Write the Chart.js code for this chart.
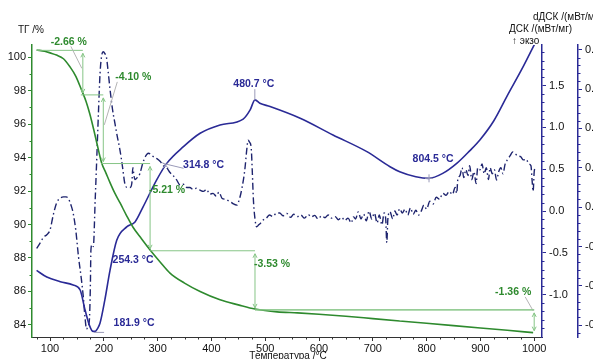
<!DOCTYPE html>
<html>
<head>
<meta charset="utf-8">
<script src="https://cdn.jsdelivr.net/npm/chart.js@4/dist/chart.umd.min.js"></script>
<style>
  html, body { margin: 0; padding: 0; background: #fff; overflow: hidden; }
  #wrap { width: 593px; height: 359px; position: relative; }
</style>
</head>
<body>
<div id="wrap"><canvas id="c" width="593" height="359"></canvas></div>
<script>
// ---- TG (mass, %) ----
const tgTemp = [75, 90, 100, 112, 125, 137, 148, 159, 167, 174, 181, 187, 196, 204, 211.5, 220, 230, 242, 254, 270, 286, 305, 323, 350, 379, 416, 450, 481, 522, 560, 600, 650, 700, 750, 800, 850, 900, 950, 998];
const tgMass = [100.42, 100.35, 100.25, 100.12, 99.9, 99.42, 98.85, 98.0, 97.35, 96.6, 95.7, 94.87, 93.67, 93.07, 92.5, 91.9, 91.3, 90.55, 89.85, 89.15, 88.48, 87.75, 87.1, 86.5, 86.0, 85.5, 85.2, 84.95, 84.78, 84.72, 84.64, 84.52, 84.38, 84.24, 84.1, 83.96, 83.82, 83.68, 83.54];

// ---- DSC (mW/mg) ----
const dscTemp = [75, 94, 119, 143, 156, 165, 174, 180, 184, 188, 193, 202, 211.5, 224, 242.5, 258, 273, 298, 317, 348, 379, 416, 459, 472, 481, 490, 509, 565, 626, 689, 732, 750, 780, 804, 830, 856, 880, 899, 925, 950, 979, 1001];
const dscVal  = [-0.71, -0.79, -0.845, -0.885, -0.945, -1.18, -1.38, -1.44, -1.44, -1.41, -1.34, -1.06, -0.71, -0.35, -0.19, -0.13, 0.05, 0.37, 0.57, 0.77, 0.93, 1.03, 1.10, 1.21, 1.33, 1.29, 1.25, 1.11, 0.91, 0.71, 0.53, 0.47, 0.41, 0.39, 0.45, 0.57, 0.72, 0.85, 1.08, 1.38, 1.72, 2.0];

// ---- dDSC (mW/mg/min) ----
const ddscTemp = [75, 82, 88, 94, 100, 106, 112, 118, 125, 130, 134, 139, 143, 148, 153, 158, 162, 165, 168, 171, 173, 175, 176, 178, 180.5, 184, 187, 190, 193, 196, 199, 202, 205, 208, 211.5, 216, 221, 225, 230, 235, 239, 244, 249, 252, 254, 256, 258, 262, 267, 272, 277, 283, 290, 298, 305, 311, 317, 323, 329, 335, 342, 348, 354, 360, 366, 372, 379, 385, 391, 397, 403, 409, 414, 420, 426, 432, 437, 441, 447, 452, 457, 462, 466, 468, 471, 474, 476, 478, 481, 484, 488, 492, 496, 502, 508, 514, 520, 527, 533, 540, 547, 553, 560, 566, 573, 580, 586, 592, 598, 605, 611, 617, 624, 630, 636, 642, 648, 654, 660, 664, 668, 673, 678, 683, 688, 693, 698, 703, 708, 712, 717, 721, 724, 726, 728, 732, 737, 741, 745, 750, 755, 760, 765, 770, 775, 780, 785, 790, 795, 800, 806, 812, 818, 824, 830, 836, 842, 848, 853, 856, 858, 862, 866, 869, 873, 877, 880, 884, 888, 892, 895, 899, 903, 907, 911, 915, 918, 922, 926, 930, 934, 938, 942, 946, 950, 955, 960, 965, 970, 975, 980, 985, 990, 994, 996, 998, 1000, 1002];
const ddscVal  = [-0.105, -0.09, -0.076, -0.07, -0.058, -0.02, 0.01, 0.022, 0.026, 0.026, 0.022, 0.005, -0.015, -0.06, -0.127, -0.18, -0.23, -0.28, -0.31, -0.30, -0.29, -0.2, -0.11, -0.095, -0.10, 0.02, 0.128, 0.24, 0.34, 0.385, 0.395, 0.39, 0.38, 0.345, 0.30, 0.25, 0.21, 0.18, 0.145, 0.10, 0.06, 0.05, 0.05, 0.06, 0.10, 0.08, 0.07, 0.075, 0.085, 0.11, 0.128, 0.137, 0.13, 0.124, 0.116, 0.105, 0.10, 0.088, 0.08, 0.07, 0.056, 0.058, 0.05, 0.05, 0.045, 0.048, 0.043, 0.04, 0.045, 0.033, 0.035, 0.028, 0.038, 0.022, 0.02, 0.016, 0.012, 0.008, 0.005, 0.02, 0.05, 0.094, 0.15, 0.17, 0.165, 0.15, 0.09, 0.02, -0.03, -0.05, -0.045, -0.04, -0.033, -0.028, -0.02, -0.024, -0.016, -0.015, -0.022, -0.016, -0.026, -0.018, -0.024, -0.02, -0.028, -0.019, -0.025, -0.021, -0.03, -0.022, -0.027, -0.02, -0.028, -0.024, -0.032, -0.026, -0.034, -0.028, -0.04, -0.025, -0.03, -0.012, -0.03, -0.018, -0.035, -0.01, -0.03, -0.015, -0.04, -0.02, -0.045, -0.015, -0.03, -0.09, -0.03, -0.012, -0.03, -0.01, -0.02, -0.004, -0.015, -0.005, -0.02, -0.002, -0.018, -0.008, -0.02, -0.01, 0.005, -0.005, 0.015, 0.008, 0.025, 0.02, 0.035, 0.03, 0.04, 0.032, 0.05, 0.035, 0.07, 0.08, 0.1, 0.075, 0.095, 0.08, 0.105, 0.07, 0.09, 0.06, 0.1, 0.095, 0.11, 0.085, 0.1, 0.07, 0.1, 0.085, 0.095, 0.069, 0.09, 0.1, 0.085, 0.11, 0.12, 0.13, 0.14, 0.135, 0.13, 0.128, 0.12, 0.122, 0.11, 0.105, 0.07, 0.04, 0.09, 0.1];

// ---- mass-loss steps and evaluated peaks ----
const stepStartMass = 100.40;
const stepLoss = [-2.66, -4.10, -5.21, -3.53, -1.36];
const stepTemp = [161, 199, 286, 481, 1000];
const peakTemp = [181.9, 254.3, 314.8, 480.7, 804.5];

// ---- tick values ----
const tgTicks = [84, 86, 88, 90, 92, 94, 96, 98, 100];
const dscTicks = [-1.0, -0.5, 0.0, 0.5, 1.0, 1.5];
const ddscTicks = [-0.3, -0.2, -0.1, 0.0, 0.1, 0.2, 0.3, 0.4];
const tempTicks = [100, 200, 300, 400, 500, 600, 700, 800, 900, 1000];

const GREEN = '#2e8a2e';
const LIGHTGREEN = '#86c586';
const NAVY = '#2a2a96';
const DASHNAVY = '#1e246e';
const FONT = '"Liberation Sans", Arial, sans-serif';

const pts = (xs, ys) => xs.map((x, i) => ({ x, y: ys[i] }));
const interp = (xs, ys, t) => {
  for (let i = 1; i < xs.length; i++) {
    if (t <= xs[i]) {
      const f = (t - xs[i - 1]) / (xs[i] - xs[i - 1]);
      return ys[i - 1] + f * (ys[i] - ys[i - 1]);
    }
  }
  return ys[ys.length - 1];
};

function fixedTicks(list) {
  return function (scale) {
    scale.ticks = list.map(v => ({ value: v }));
  };
}

// decorations: step brackets, peak labels, axis captions, minor ticks
const decor = {
  id: 'decor',
  afterDatasetsDraw(chart) {
    const ctx = chart.ctx;
    const xs = chart.scales.x, ytg = chart.scales.yTG, yd = chart.scales.yDSC;
    ctx.save();

    // step brackets of the TG curve
    const levels = [stepStartMass];
    stepLoss.forEach(l => levels.push(+(levels[levels.length - 1] + l).toFixed(2)));
    const labelOff = [[-14, -8], [30, -18], [17, 27], [17, 13], [-21, -18]];
    const leaders = [[-12, -4, -1, 18], [14, -13, 1, 30], null, null, [-9, -13, -1, 1]];
    ctx.lineWidth = 1;
    for (let k = 0; k < stepLoss.length; k++) {
      const xa = xs.getPixelForValue(stepTemp[k]);
      const yTop = ytg.getPixelForValue(levels[k]);
      const yBot = ytg.getPixelForValue(levels[k + 1]);
      // horizontal level line before the arrow
      const xFrom = xs.getPixelForValue(k === 0 ? tgTemp[0] : stepTemp[k - 1]) - (k === 1 || k === 2 ? 2 : 0);
      ctx.strokeStyle = LIGHTGREEN;
      ctx.beginPath();
      ctx.moveTo(xFrom, yTop); ctx.lineTo(xa, yTop);
      ctx.stroke();
      // vertical double arrow
      ctx.beginPath();
      ctx.moveTo(xa, yTop + 3); ctx.lineTo(xa, yBot - 2);
      ctx.moveTo(xa - 2, yTop + 7); ctx.lineTo(xa, yTop + 3); ctx.lineTo(xa + 2, yTop + 7);
      ctx.moveTo(xa - 2, yBot - 6); ctx.lineTo(xa, yBot - 2); ctx.lineTo(xa + 2, yBot - 6);
      ctx.stroke();
      // leader
      if (leaders[k]) {
        const [a, b, c, d] = leaders[k];
        ctx.strokeStyle = '#b4b4b4';
        ctx.beginPath();
        ctx.moveTo(xa + a, yTop + b); ctx.lineTo(xa + c, yTop + d);
        ctx.stroke();
      }
      // text
      ctx.fillStyle = GREEN;
      ctx.font = 'bold 10.5px ' + FONT;
      ctx.textAlign = 'center';
      ctx.textBaseline = 'middle';
      ctx.fillText(stepLoss[k].toFixed(2) + ' %', xa + labelOff[k][0], yTop + labelOff[k][1]);
    }
    // last level line to the end of the run
    {
      const k = stepLoss.length - 1;
      const yTop = ytg.getPixelForValue(levels[k]);
      ctx.strokeStyle = LIGHTGREEN;
      ctx.beginPath();
      ctx.moveTo(xs.getPixelForValue(stepTemp[k - 1]), yTop);
      ctx.lineTo(xs.getPixelForValue(stepTemp[k]), yTop);
      ctx.stroke();
    }

    // DSC peak / inflection labels
    const peakOff = [[40, -8], [0, 37], [38, 0], [-1, -16], [4, -19]];
    ctx.font = 'bold 10.5px ' + FONT;
    peakTemp.forEach((t, i) => {
      const px = xs.getPixelForValue(t);
      const py = yd.getPixelForValue(interp(dscTemp, dscVal, t));
      ctx.strokeStyle = '#9a9ab8';
      ctx.lineWidth = 1;
      ctx.beginPath();
      if (i === 0) { ctx.moveTo(px, py + 1); ctx.lineTo(px + 10, py + 1); }
      if (i === 2) {
        ctx.moveTo(px - 3, py - 2); ctx.lineTo(px + 18, py + 3);
        ctx.moveTo(px - 3, py - 3); ctx.lineTo(px + 3, py + 3);
        ctx.moveTo(px + 3, py - 3); ctx.lineTo(px - 3, py + 3);
      }
      if (i === 3) { ctx.moveTo(px, py); ctx.lineTo(px, py - 11); }
      if (i === 4) { ctx.moveTo(px - 4, py); ctx.lineTo(px + 4, py); ctx.moveTo(px, py - 4); ctx.lineTo(px, py + 4); }
      ctx.stroke();
      ctx.fillStyle = NAVY;
      ctx.textAlign = 'center';
      ctx.textBaseline = 'middle';
      ctx.fillText(t.toFixed(1) + ' °C', px + peakOff[i][0], py + peakOff[i][1]);
    });

    ctx.restore();
  },
  afterDraw(chart) {
    const ctx = chart.ctx;
    const xs = chart.scales.x, ytg = chart.scales.yTG, yd = chart.scales.yDSC, ydd = chart.scales.yD;
    const area = chart.chartArea;
    ctx.save();
    ctx.lineWidth = 1;
    // minor ticks
    ctx.strokeStyle = '#333';
    ctx.beginPath();
    for (let v = 75; v <= 1000; v += 25) {
      if (v % 100 === 0) continue;
      const p = Math.round(xs.getPixelForValue(v)) + 0.5;
      ctx.moveTo(p, area.bottom); ctx.lineTo(p, area.bottom + 2.5);
    }
    ctx.stroke();
    ctx.strokeStyle = GREEN;
    ctx.beginPath();
    for (let v = 85; v <= 99; v += 2) {
      const p = Math.round(ytg.getPixelForValue(v)) + 0.5;
      ctx.moveTo(area.left - 2.5, p); ctx.lineTo(area.left, p);
    }
    ctx.stroke();
    ctx.strokeStyle = NAVY;
    ctx.beginPath();
    for (let i = -15; i <= 19; i++) {
      if (i % 5 === 0) continue;
      const p = Math.round(yd.getPixelForValue(i / 10)) + 0.5;
      ctx.moveTo(area.right, p); ctx.lineTo(area.right + 2.5, p);
    }
    for (let i = -16; i <= 20; i++) {
      if (i % 5 === 0) continue;
      const p = Math.round(ydd.getPixelForValue(i / 50)) + 0.5;
      ctx.moveTo(ydd.left, p); ctx.lineTo(ydd.left + 2.5, p);
    }
    ctx.stroke();

    // axis captions
    ctx.fillStyle = '#111';
    ctx.font = '10px ' + FONT;
    ctx.textBaseline = 'middle';
    ctx.textAlign = 'left';
    ctx.fillText('ТГ /%', 18, 30);
    ctx.fillText('dДСК /(мВт/мг/мин)', 533, 17);
    ctx.fillText('ДСК /(мВт/мг)', 509, 29);
    ctx.fillText('↑ экзо', 512, 41);
    ctx.textAlign = 'center';
    ctx.fillText('Температура /°C', 288, 356);
    ctx.restore();
  }
};

const tickFont = { family: FONT, size: 11 };

new Chart(document.getElementById('c'), {
  type: 'line',
  data: {
    datasets: [
      {
        label: 'ТГ', data: pts(tgTemp, tgMass), yAxisID: 'yTG',
        borderColor: GREEN, borderWidth: 1.6, pointRadius: 0, fill: false,
        cubicInterpolationMode: 'monotone'
      },
      {
        label: 'ДСК', data: pts(dscTemp, dscVal), yAxisID: 'yDSC',
        borderColor: NAVY, borderWidth: 1.6, pointRadius: 0, fill: false,
        cubicInterpolationMode: 'monotone'
      },
      {
        label: 'dДСК', data: pts(ddscTemp, ddscVal), yAxisID: 'yD',
        borderColor: DASHNAVY, borderWidth: 1.4, pointRadius: 0, fill: false,
        borderDash: [7, 3, 1.5, 3], cubicInterpolationMode: 'monotone'
      }
    ]
  },
  options: {
    responsive: false,
    animation: false,
    devicePixelRatio: 1,
    layout: { padding: { top: 45, left: 0, right: 0, bottom: 0 } },
    plugins: { legend: { display: false }, tooltip: { enabled: false } },
    scales: {
      x: {
        type: 'linear', position: 'bottom', min: 66.5, max: 1014.5,
        afterBuildTicks: fixedTicks(tempTicks),
        afterFit: s => { s.height = 22; },
        grid: { drawOnChartArea: false, drawTicks: true, tickLength: 4, color: '#333' },
        border: { display: true, color: '#333', width: 1 },
        ticks: { font: tickFont, color: '#111', padding: 1, maxRotation: 0, autoSkip: false,
                 callback: v => String(v) }
      },
      yTG: {
        type: 'linear', position: 'left', min: 83.28, max: 100.72,
        afterBuildTicks: fixedTicks(tgTicks),
        afterFit: s => { s.width = 32; },
        grid: { drawOnChartArea: false, drawTicks: true, tickLength: 4, color: GREEN },
        border: { display: true, color: GREEN, width: 1.5 },
        ticks: { font: tickFont, color: '#111', padding: 2, callback: v => String(v) }
      },
      yDSC: {
        type: 'linear', position: 'right', min: -1.507, max: 1.986,
        afterBuildTicks: fixedTicks(dscTicks),
        afterFit: s => { s.width = 36; },
        grid: { drawOnChartArea: false, drawTicks: true, tickLength: 4, color: NAVY },
        border: { display: true, color: NAVY, width: 1.5 },
        ticks: { font: tickFont, color: '#111', padding: 3, callback: v => v.toFixed(1) }
      },
      yD: {
        type: 'linear', position: 'right', min: -0.33, max: 0.412,
        afterBuildTicks: fixedTicks(ddscTicks),
        afterFit: s => { s.width = 15; },
        grid: { drawOnChartArea: false, drawTicks: true, tickLength: 4, color: NAVY },
        border: { display: true, color: NAVY, width: 1.5 },
        ticks: { font: tickFont, color: '#111', padding: 3, callback: v => v.toFixed(1) }
      }
    }
  },
  plugins: [decor]
});
</script>
</body>
</html>
